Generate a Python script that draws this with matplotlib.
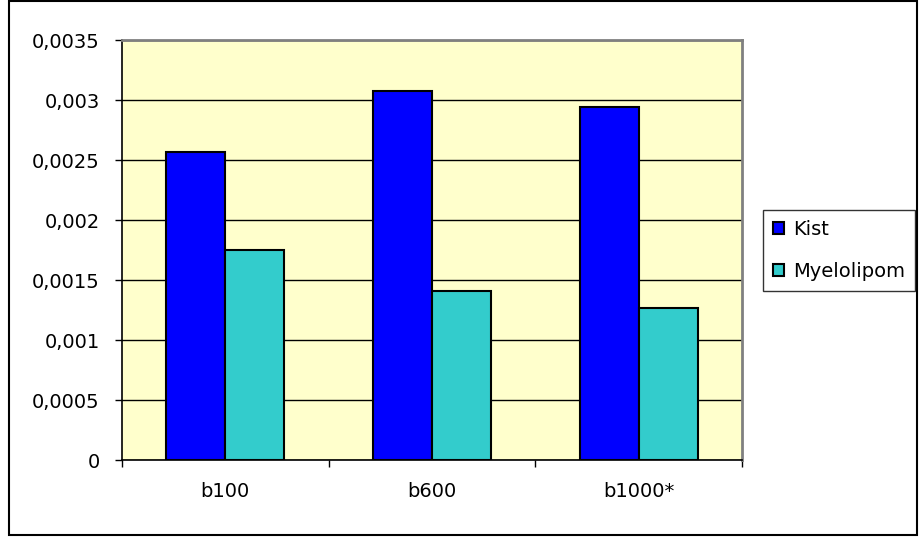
import matplotlib.pyplot as plt
import numpy as np
from matplotlib.patches import Rectangle
from matplotlib.ticker import FuncFormatter, MultipleLocator

categories = ["b100", "b600", "b1000*"]
kist = [0.002565, 0.003079, 0.00294]
myelolipom = [0.001752, 0.001407, 0.001265]
series_names = ["Kist", "Myelolipom"]

plt.rcParams['font.family'] = ['DejaVu Sans']
plt.rcParams['font.size'] = 14

W, H = 919, 537
fig = plt.figure(figsize=(W / 100, H / 100), dpi=100)

# plot area in pixel units
left, top, right, bottom = 122, 40, 742, 460
ax = fig.add_axes([left / W, 1 - bottom / H, (right - left) / W, (bottom - top) / H])
ax.set_facecolor("#FFFFCC")

x = np.arange(len(categories))
w = 0.2855
ax.bar(x - w / 2, kist, w, color="#0000FF", edgecolor="black", linewidth=1.5,
       label=series_names[0], zorder=3)
ax.bar(x + w / 2, myelolipom, w, color="#33CCCC", edgecolor="black", linewidth=1.5,
       label=series_names[1], zorder=3)

ax.set_xlim(-0.5, len(categories) - 0.5)
ax.set_ylim(0, 0.0035)
ax.yaxis.set_major_locator(MultipleLocator(0.0005))
ax.yaxis.set_major_formatter(FuncFormatter(lambda v, p: f"{v:g}".replace(".", ",")))
ax.grid(axis="y", color="black", linewidth=1, zorder=1)

# category labels at centres, tick marks at the boundaries
ax.set_xticks(x)
ax.set_xticklabels(categories)
ax.set_xticks(np.arange(len(categories) + 1) - 0.5, minor=True)
ax.tick_params(axis="x", which="major", length=0, pad=16)
ax.tick_params(axis="x", which="minor", length=5, width=1, color="black")
ax.tick_params(axis="y", length=5, width=1, color="black", pad=11)

for side in ("top", "right"):
    ax.spines[side].set_color("#808080")
    ax.spines[side].set_linewidth(2)
for side in ("left", "bottom"):
    ax.spines[side].set_color("black")
    ax.spines[side].set_linewidth(1.2)

leg = ax.legend(loc="upper left", bbox_to_anchor=(763 / W, 1 - 210 / H),
                bbox_transform=fig.transFigure, borderaxespad=0, fancybox=False,
                edgecolor="black", handlelength=0.6, handleheight=0.6,
                handletextpad=0.45, labelspacing=1.2, borderpad=0.5)
leg.get_frame().set_linewidth(1)

# outer chart frame
fig.patches.append(Rectangle((9 / W, 2 / H), 908 / W, 534 / H, transform=fig.transFigure,
                             fill=False, edgecolor="black", linewidth=1.5))

fig.savefig("out.png", dpi=100)
